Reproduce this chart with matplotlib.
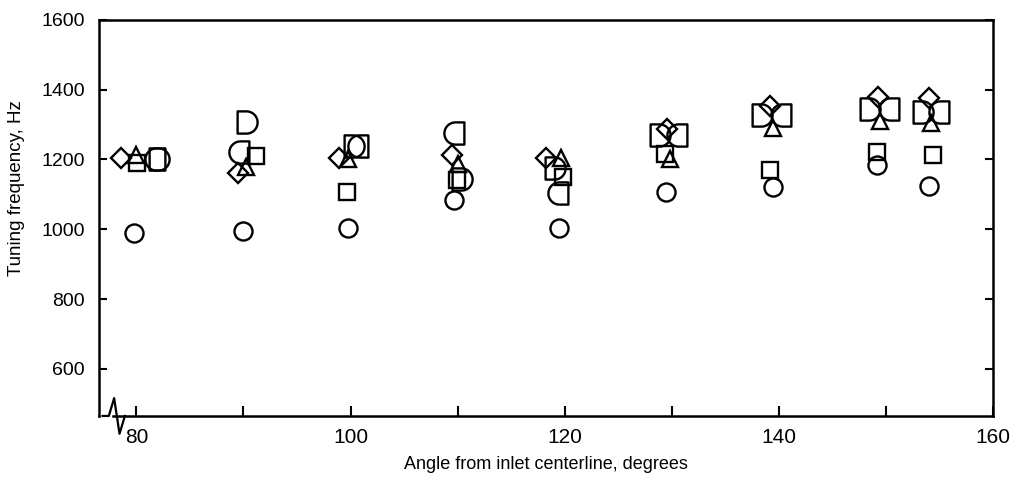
import numpy as np
import matplotlib
matplotlib.use("Agg")
import matplotlib.pyplot as plt
from matplotlib.path import Path

plt.rcParams['font.family'] = ['Liberation Sans', 'DejaVu Sans']

# tuning frequency (Hz) against angle (deg), one array pair per symbol
circle_x = [79.8, 90.0, 99.8, 109.7, 119.5, 129.5, 139.5, 149.2, 154.0]
circle_y = [990, 995, 1003, 1083, 1003, 1108, 1120, 1183, 1123]

square_x = [80.1, 91.2, 99.7, 109.9, 119.8, 129.4, 139.2, 149.2, 154.4]
square_y = [1190, 1211, 1106, 1140, 1150, 1215, 1171, 1220, 1214]

diamond_x = [78.6, 89.5, 98.9, 109.5, 118.3, 129.6, 139.2, 149.3, 154.0]
diamond_y = [1205, 1160, 1205, 1214, 1203, 1286, 1352, 1380, 1377]

triangle_x = [80.0, 90.2, 99.8, 110.0, 119.7, 129.8, 139.5, 149.5, 154.2]
triangle_y = [1214, 1177, 1200, 1186, 1205, 1200, 1291, 1311, 1303]

dright_x = [82.0, 90.2, 100.2, 110.3, 119.0, 128.8, 138.3, 148.4, 153.4]
dright_y = [1200, 1306, 1237, 1145, 1175, 1271, 1326, 1343, 1337]

dleft_x = [81.8, 89.7, 100.8, 109.8, 119.5, 130.6, 140.3, 150.4, 155.1]
dleft_y = [1200, 1220, 1237, 1277, 1103, 1271, 1326, 1343, 1337]

x_major = [80, 100, 120, 140, 160]
x_minor = [90, 110, 130, 150]
y_ticks = [600, 800, 1000, 1200, 1400, 1600]


def d_marker(flip=False):
    # flat side plus a half circle
    t = np.linspace(np.pi / 2, -np.pi / 2, 25)
    verts = [(-0.8, 1.0), (0.0, 1.0)] + list(zip(np.cos(t), np.sin(t))) + [(-0.8, -1.0), (-0.8, 1.0)]
    verts = np.array(verts)
    if flip:
        verts[:, 0] *= -1
    return Path(verts, closed=True)


fig = plt.figure(figsize=(10.17, 4.82), dpi=100)
ax = fig.add_axes([0.0973, 0.137, 0.879, 0.822])

style = dict(linestyle='none', markerfacecolor='none', markeredgecolor='black',
             markeredgewidth=1.7, clip_on=False)
ax.plot(circle_x, circle_y, marker='o', markersize=13, **style)
ax.plot(square_x, square_y, marker='s', markersize=11, **style)
ax.plot(diamond_x, diamond_y, marker='D', markersize=10, **style)
ax.plot(triangle_x, triangle_y, marker='^', markersize=12, **style)
ax.plot(dright_x, dright_y, marker=d_marker(), markersize=16, **style)
ax.plot(dleft_x, dleft_y, marker=d_marker(flip=True), markersize=16, **style)

ax.set_xlim(76.5, 160)
ax.set_ylim(465, 1600)

ax.set_xticks(x_major)
ax.set_xticks(x_minor, minor=True)
ax.set_yticks(y_ticks)
ax.tick_params(axis='both', which='both', direction='in', width=1.5,
               labelsize=14, pad=10)
ax.tick_params(axis='x', which='both', length=7, pad=9, labelsize=15)
ax.tick_params(axis='y', length=6, right=True)

for side in ['left', 'right', 'top', 'bottom']:
    ax.spines[side].set_linewidth(1.8)

# axis break on the lower left
bx = [0.004, 0.011, 0.017, 0.023, 0.029]
by = [0.0, 0.0, 0.045, -0.045, 0.0]
ax.plot([0.003, 0.012], [0.0, 0.0], color='white', lw=2.5, transform=ax.transAxes,
        clip_on=False, zorder=4)
ax.plot(bx, by, color='black', lw=1.6, transform=ax.transAxes, clip_on=False, zorder=5)

ax.set_xlabel('Angle from inlet centerline, degrees', fontsize=13, labelpad=6)
ax.set_ylabel('Tuning frequency, Hz', fontsize=13.5)
ax.yaxis.set_label_coords(-0.083, 0.576)

fig.savefig('out.png', dpi=100)
